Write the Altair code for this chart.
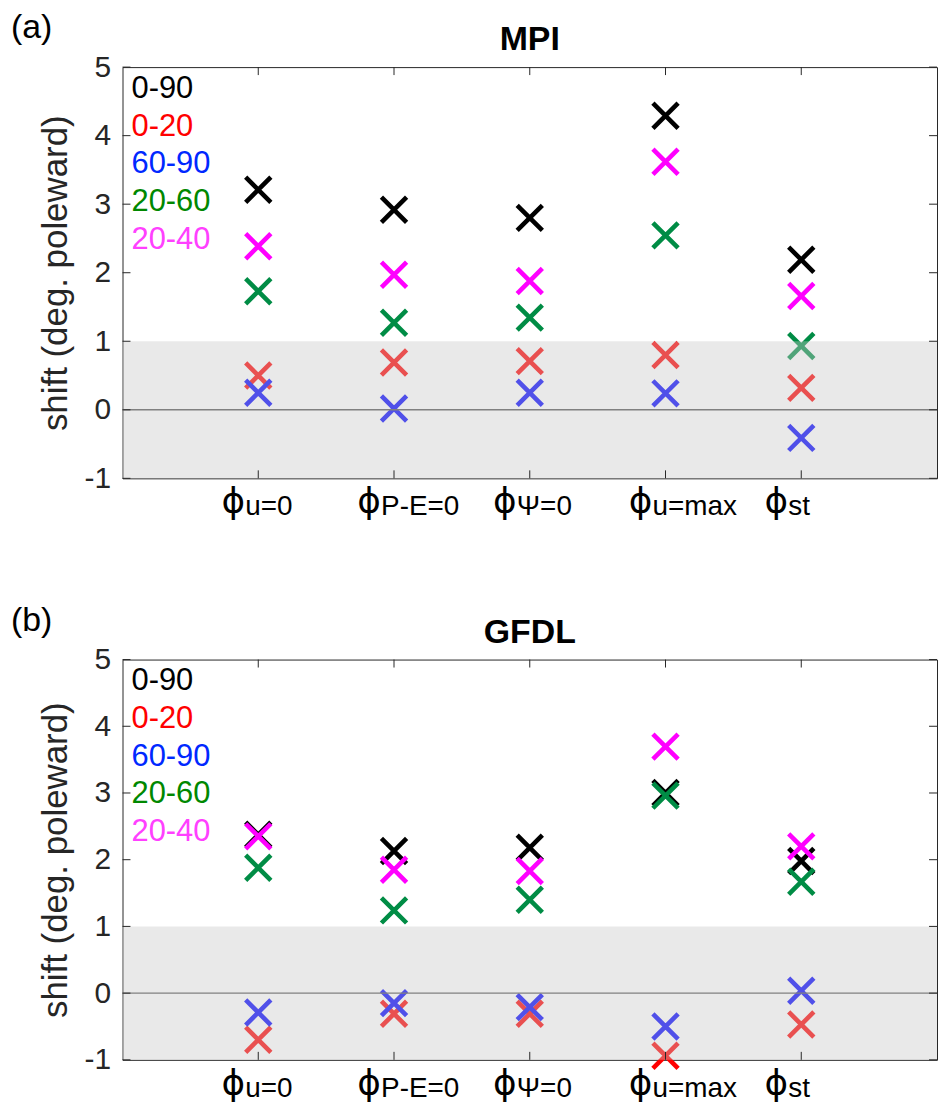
import altair as alt
import pandas as pd

# ---------------- data ----------------
categories = ["u=0", "P-E=0", "Ψ=0", "u=max", "st"]
series = ["0-90", "0-20", "60-90", "20-60", "20-40"]
marker_colors = ["#000000", "#ff0000", "#0000ff", "#008c45", "#ff00ff"]
legend_colors = ["#000000", "#ff0000", "#0028ff", "#008800", "#ff40ff"]

mpi_0_90 = [3.21, 2.92, 2.80, 4.29, 2.19]
mpi_0_20 = [0.50, 0.69, 0.71, 0.80, 0.32]
mpi_60_90 = [0.25, 0.02, 0.25, 0.24, -0.41]
mpi_20_60 = [1.73, 1.27, 1.345, 2.545, 0.93]
mpi_20_40 = [2.385, 1.97, 1.88, 3.62, 1.66]

gfdl_0_90 = [2.375, 2.13, 2.18, 3.00, 1.98]
gfdl_0_20 = [-0.70, -0.31, -0.31, -0.94, -0.47]
gfdl_60_90 = [-0.29, -0.15, -0.21, -0.50, 0.035]
gfdl_20_60 = [1.88, 1.24, 1.40, 2.96, 1.67]
gfdl_20_40 = [2.35, 1.85, 1.83, 3.695, 2.20]

y_ticks = [-1, 0, 1, 2, 3, 4, 5]
y_domain = [-1, 5]
x_domain = [0, 6]
band = [-1, 1]
zero_line = [0]

FONT = "Liberation Sans"
X_PATH = "M-1,-1L1,1M1,-1L-1,1"
W = 818


def panel(values, title, letter, h):
    rows = []
    for s, arr in zip(series, values):
        for i, v in enumerate(arr):
            rows.append({"series": s, "pos": i + 1, "value": v})
    df = pd.DataFrame(rows)

    ys = alt.Scale(domain=y_domain, nice=False, zero=False)
    xs = alt.Scale(domain=x_domain, nice=False, zero=False)
    yaxis = alt.Axis(
        values=y_ticks, tickSize=0, domain=False, grid=False,
        labelFontSize=30, labelPadding=12, labelColor="#262626",
        labelExpr="'' + datum.value",
        title="shift (deg. poleward)", titleFontSize=35,
        titleFontWeight="normal", titlePadding=11, titleColor="#262626",
    )

    points = alt.Chart(df).mark_point(
        shape=X_PATH, size=640, strokeWidth=4.6, filled=False, opacity=1
    ).encode(
        x=alt.X("pos:Q", scale=xs, axis=None),
        y=alt.Y("value:Q", scale=ys, axis=yaxis),
        color=alt.Color("series:N", scale=alt.Scale(domain=series, range=marker_colors), legend=None),
    )

    band_df = pd.DataFrame({"lo": [band[0]], "hi": [band[1]]})
    shade = alt.Chart(band_df).mark_rect(color="#c8c8c8", opacity=0.4).encode(
        x=alt.value(0), x2=alt.value(W),
        y=alt.Y("lo:Q", scale=ys, axis=yaxis), y2="hi:Q",
    )

    zl = alt.Chart(pd.DataFrame({"z": zero_line})).mark_rule(
        color="#808080", strokeWidth=1.5
    ).encode(y=alt.Y("z:Q", scale=ys, axis=yaxis))

    yt = pd.DataFrame({"v": y_ticks})
    yt_left = alt.Chart(yt).mark_rule(color="#262626", strokeWidth=1).encode(
        y=alt.Y("v:Q", scale=ys, axis=yaxis), x=alt.value(0), x2=alt.value(8))
    yt_right = alt.Chart(yt).mark_rule(color="#262626", strokeWidth=1).encode(
        y=alt.Y("v:Q", scale=ys, axis=yaxis), x=alt.value(W - 8), x2=alt.value(W))

    cat_df = pd.DataFrame({"pos": list(range(1, len(categories) + 1)), "label": categories})
    xt_bot = alt.Chart(cat_df).mark_rule(color="#262626", strokeWidth=1).encode(
        x=alt.X("pos:Q", scale=xs, axis=None), y=alt.value(h - 8), y2=alt.value(h))
    xt_top = alt.Chart(cat_df).mark_rule(color="#262626", strokeWidth=1).encode(
        x=alt.X("pos:Q", scale=xs, axis=None), y=alt.value(0), y2=alt.value(8))

    phi = alt.Chart(cat_df).mark_text(
        text="ϕ", font="DejaVu Sans", fontSize=36, align="center", baseline="middle", dx=-25, color="#000000"
    ).encode(x=alt.X("pos:Q", scale=xs, axis=None), y=alt.value(h + 24))
    rest = alt.Chart(cat_df).mark_text(
        font=FONT, fontSize=28, align="left", baseline="alphabetic", dx=-13, color="#000000"
    ).encode(x=alt.X("pos:Q", scale=xs, axis=None), y=alt.value(h + 37), text="label:N")

    leg_df = pd.DataFrame({"series": series, "tc": legend_colors, "row": list(range(len(series)))})
    legend = alt.Chart(leg_df).transform_calculate(
        ly="22 + 37.8 * datum.row"
    ).mark_text(font=FONT, fontSize=31, align="left", baseline="middle").encode(
        x=alt.value(9),
        y=alt.Y("ly:Q", scale=None, axis=None),
        text="series:N",
        color=alt.Color("tc:N", scale=None),
    )

    lab = alt.Chart(pd.DataFrame({"t": [letter]})).mark_text(
        font=FONT, fontSize=34, align="left", baseline="middle", color="#000000"
    ).encode(x=alt.value(-112), y=alt.value(-39), text="t:N")

    ttl = alt.Chart(pd.DataFrame({"t": [title]})).mark_text(
        font=FONT, fontSize=34, fontWeight="bold", align="center", baseline="alphabetic", color="#000000"
    ).encode(x=alt.value(W / 2), y=alt.value(-17), text="t:N")

    return alt.layer(
        points, shade, zl, yt_left, yt_right, xt_bot, xt_top, phi, rest, legend, lab, ttl
    ).properties(width=W, height=h)


top = panel([mpi_0_90, mpi_0_20, mpi_60_90, mpi_20_60, mpi_20_40], "MPI", "(a)", 413)
bottom = panel([gfdl_0_90, gfdl_0_20, gfdl_60_90, gfdl_20_60, gfdl_20_40], "GFDL", "(b)", 402)

chart = alt.vconcat(top, bottom, spacing=81).properties(
    padding={"left": 2, "top": 0, "right": 0, "bottom": 0}
).configure(font=FONT).configure_view(stroke="#262626", strokeWidth=1)

chart.save("out.html", embed_options={"renderer": "svg", "actions": False})
